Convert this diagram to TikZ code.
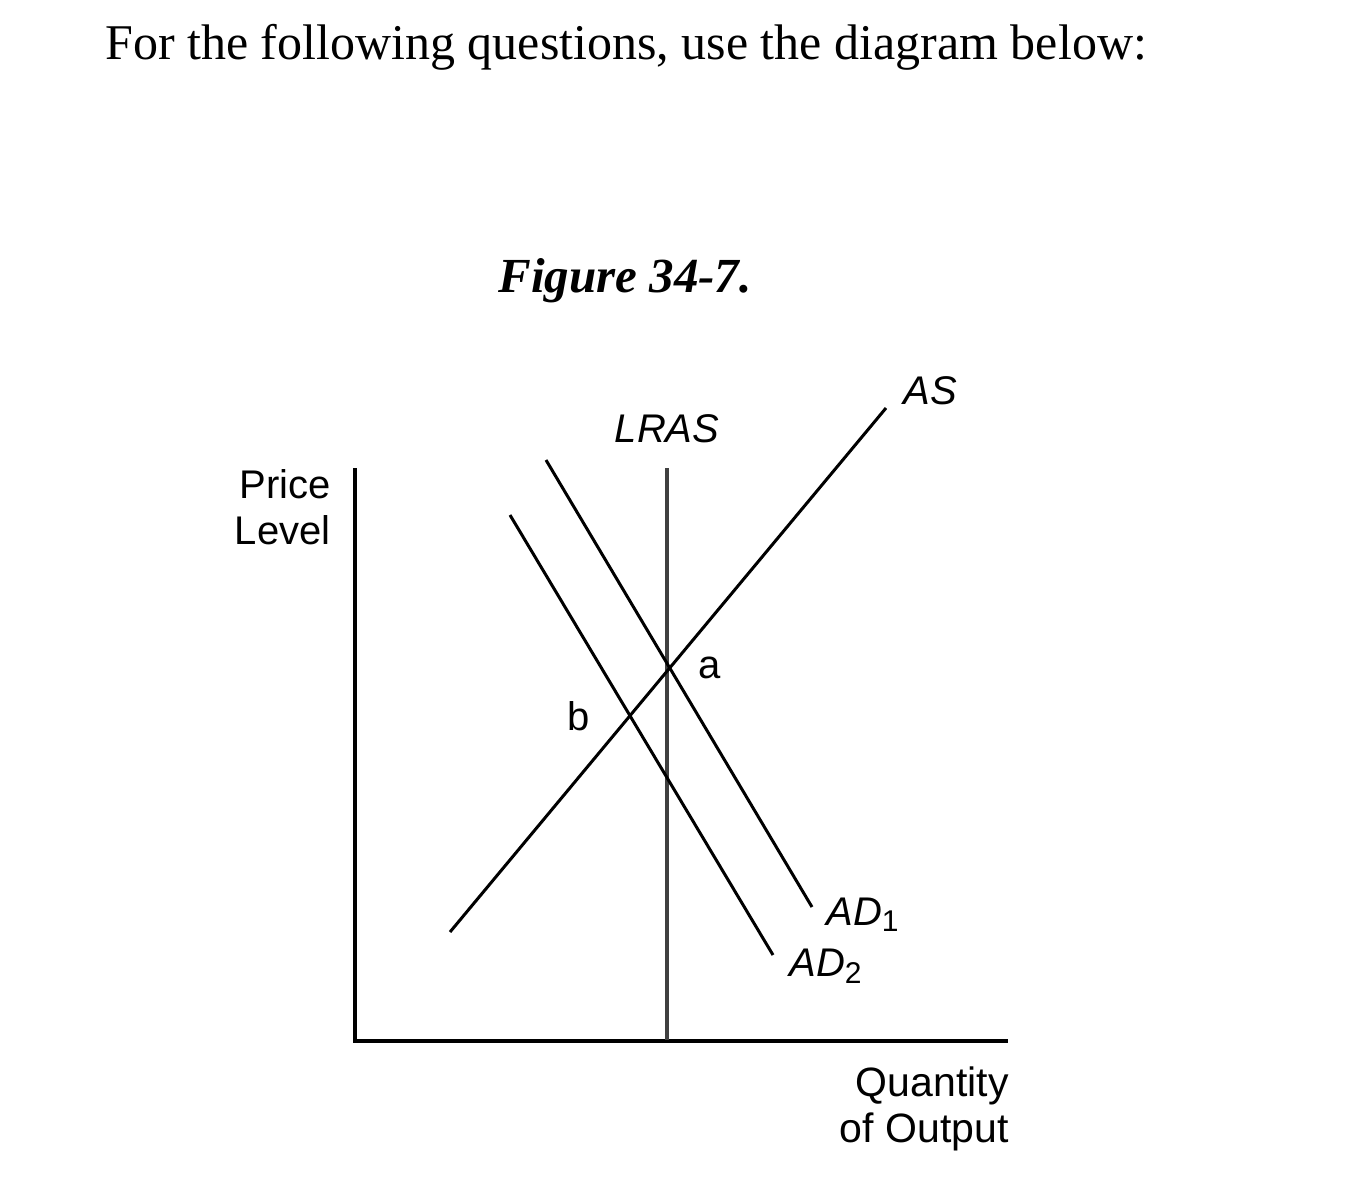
\documentclass[tikz,border=0pt]{standalone}
\usepackage{fontspec}
\setmainfont{Liberation Serif}
\setsansfont{Liberation Sans}
\begin{document}
\begin{tikzpicture}[x=0.5pt,y=-0.5pt,
  curve/.style={line width=1.5pt,black},
  axis/.style={line width=2.3pt,black},
  lbl/.style={font=\sffamily\fontsize{20}{24}\selectfont,inner sep=0pt},
  ilbl/.style={font=\sffamily\itshape\fontsize{20}{24}\selectfont,inner sep=0pt}]
\useasboundingbox[fill=white] (0,0) rectangle (1353,1200);
\node[anchor=west,inner sep=0pt,font=\fontsize{25}{28}\selectfont] (head) at (105,47) {For the following questions, use the diagram below:};
\node[inner sep=0pt,font=\bfseries\itshape\fontsize{24.5}{28}\selectfont] (fig) at (625,281) {Figure 34-7.};
% axes
\coordinate (o) at (355,1041);
\coordinate (ytop) at (355,468);
\coordinate (xend) at (1008,1041);
\draw[axis] (ytop) -- (o) -- (xend);
% LRAS
\coordinate (lrasT) at (667,468);
\coordinate (lrasB) at (667,1040);
\draw[line width=1.6pt,black!75] (lrasT) -- (lrasB);
% AS
\coordinate (asB) at (450,932);
\coordinate (asT) at (886,408);
\draw[curve] (asB) -- (asT);
% AD1, AD2
\coordinate (ad1T) at (546,460);
\coordinate (ad1B) at (812,907);
\draw[curve] (ad1T) -- (ad1B);
\coordinate (ad2T) at (510,515);
\coordinate (ad2B) at (773,955);
\draw[curve] (ad2T) -- (ad2B);
% labels
\node[ilbl] (AS) at (930,391) {AS};
\node[ilbl] (LRAS) at (667,429) {LRAS};
\node[lbl,align=right,anchor=east,font=\sffamily\fontsize{20}{23}\selectfont] (py) at (331,507) {Price\\Level};
\node[lbl] (a) at (710,668) {a};
\node[lbl] (b) at (579,716) {b};
\node[ilbl,anchor=west] (AD1) at (826,915) {AD\textsubscript{\upshape\fontsize{15}{16}\selectfont 1}};
\node[ilbl,anchor=west] (AD2) at (789,966) {AD\textsubscript{\upshape\fontsize{15}{16}\selectfont 2}};
\node[lbl,align=right,anchor=east,font=\sffamily\fontsize{20.5}{23}\selectfont] (qx) at (1009,1109) {Quantity\\of Output};
\end{tikzpicture}
\end{document}
